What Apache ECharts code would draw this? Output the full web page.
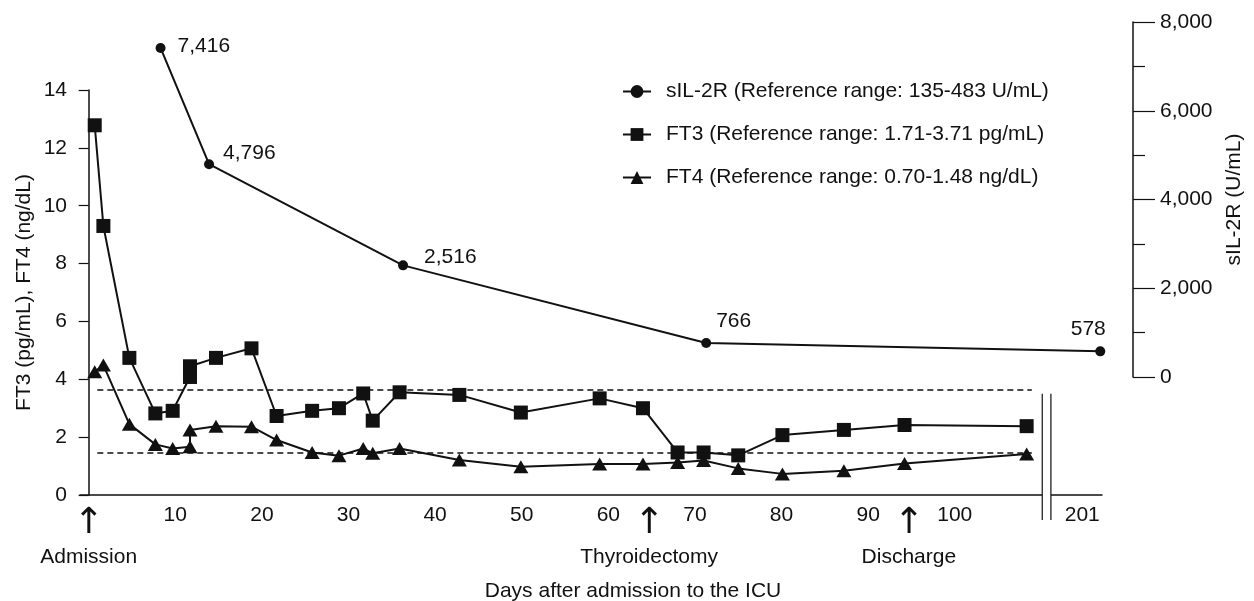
<!DOCTYPE html>
<html>
<head>
<meta charset="utf-8">
<script src="https://cdn.jsdelivr.net/npm/echarts@6/dist/echarts.min.js"></script>
<style>
  html, body { margin: 0; background: #fff; }
  #chart { width: 1254px; height: 601px; }
</style>
</head>
<body>
<div id="chart"></div>
<script>
// days after ICU admission for the thyroid tests
const thyroidDays = [0.7, 1.7, 4.7, 7.7, 9.7, 11.7, 11.7, 14.7, 18.8, 21.7, 25.8, 28.9, 31.7, 32.8, 35.9,
  42.8, 49.9, 59.0, 64.0, 68.0, 71.0, 75.0, 80.1, 87.2, 94.2, 108.3];
const ft3 = [12.78, 9.30, 4.74, 2.82, 2.91, 4.08, 4.45, 4.74, 5.07, 2.73, 2.91, 3.00, 3.51, 2.57, 3.55,
  3.46, 2.85, 3.34, 3.00, 1.47, 1.47, 1.37, 2.07, 2.25, 2.42, 2.38];
const ft4 = [4.26, 4.49, 2.45, 1.75, 1.61, 1.67, 2.25, 2.38, 2.36, 1.90, 1.47, 1.36, 1.61, 1.44, 1.61,
  1.21, 0.98, 1.07, 1.07, 1.12, 1.19, 0.92, 0.73, 0.84, 1.09, 1.42];

const sil2rDays = [8.3, 13.9, 36.3, 71.3, 201];
const sil2r = [7416, 4796, 2516, 766, 578];

// upper limits of the reference ranges (dashed lines)
const refLines = [3.65, 1.46];
const refFrom = 1, refTo = 108.9;

const xTicks = [10, 20, 30, 40, 50, 60, 70, 80, 90, 100];
const eventDays = [0, 64.7, 94.7];
const eventNames = ['Admission', 'Thyroidectomy', 'Discharge'];

const legendNames = [
  'sIL-2R (Reference range: 135-483 U/mL)',
  'FT3 (Reference range: 1.71-3.71 pg/mL)',
  'FT4 (Reference range: 0.70-1.48 ng/dL)'
];

// axis break: days past the break are drawn at the end of the axis
const X_MIN = -1, X_MAX = 117;
const BREAK_L = 110.1, BREAK_R = 111.1;
const LATE_POS = 116.8;
const toAxis = d => (d > BREAK_R ? LATE_POS : d);

const FONT = '"Liberation Sans", Arial, Helvetica, sans-serif';
const INK = '#111';
const FS = 21;

// where each sIL-2R value label sits
const sLabelPos = [
  { position: 'right', distance: 12, offset: [0, -2] },
  { position: 'right', distance: 9, offset: [0, -11] },
  { position: 'right', distance: 16, offset: [0, -8] },
  { position: 'right', distance: 5, offset: [0, -22] },
  { position: 'top', distance: 7, offset: [-12, 0] }
];

const chart = echarts.init(document.getElementById('chart'));

const option = {
  animation: false,
  textStyle: { fontFamily: FONT, color: INK },
  grid: [
    { left: 80, right: 152, top: 90, bottom: 106, outerBoundsMode: 'none' },
    { left: 80, right: 152, top: 22, bottom: 224, outerBoundsMode: 'none' }
  ],
  legend: {
    orient: 'vertical',
    left: 617,
    top: 76,
    itemWidth: 28,
    itemHeight: 16,
    itemGap: 22,
    data: legendNames,
    textStyle: { fontSize: FS, color: INK, padding: [0, 0, 0, 10] }
  },
  xAxis: [
    {
      gridIndex: 0, type: 'value', min: X_MIN, max: X_MAX,
      splitLine: { show: false },
      axisTick: { show: false },
      axisLine: { onZero: false, lineStyle: { color: INK, width: 1.5 } },
      axisLabel: {
        customValues: xTicks.concat([LATE_POS]),
        formatter: v => (v === LATE_POS ? '{late|201}' : String(v)),
        margin: 10, fontSize: FS, color: INK,
        rich: { late: { fontSize: FS, color: INK, padding: [0, 36, 0, 0] } }
      },
      name: 'Days after admission to the ICU',
      nameLocation: 'middle', nameGap: 86,
      nameTextStyle: { fontSize: FS, color: INK, padding: [0, 0, 0, 84] }
    },
    {
      // event markers under the axis
      gridIndex: 0, type: 'value', min: X_MIN, max: X_MAX, position: 'bottom',
      splitLine: { show: false }, axisTick: { show: false },
      axisLine: { show: false, onZero: false },
      axisLabel: {
        customValues: eventDays,
        formatter: v => '{arr|\u2191}\n{ev|' + eventNames[eventDays.indexOf(v)] + '}',
        margin: 11,
        rich: {
          arr: { fontSize: 36, lineHeight: 36, color: INK, fontFamily: 'DejaVu Sans' },
          ev: { fontSize: FS, lineHeight: 30, color: INK }
        }
      }
    },
    { gridIndex: 1, type: 'value', min: X_MIN, max: X_MAX, show: false }
  ],
  yAxis: [
    {
      gridIndex: 0, type: 'value', min: 0, max: 14, interval: 2,
      splitLine: { show: false },
      axisLine: { show: true, onZero: true, lineStyle: { color: INK, width: 1.5 } },
      axisTick: { show: true, length: 10, lineStyle: { color: INK, width: 1.2 } },
      axisLabel: { fontSize: FS, color: INK, margin: 13 },
      name: 'FT3 (pg/mL), FT4 (ng/dL)',
      nameLocation: 'middle', nameGap: 45, nameMoveOverlap: false,
      nameTextStyle: { fontSize: FS, color: INK }
    },
    {
      gridIndex: 1, type: 'value', min: 0, max: 8000, interval: 2000,
      position: 'right', offset: 31,
      splitLine: { show: false },
      axisLine: { show: true, onZero: false, lineStyle: { color: INK, width: 1.5 } },
      axisTick: { show: true, length: 22, lineStyle: { color: INK, width: 1.2 } },
      minorTick: { show: true, splitNumber: 2, length: 12, lineStyle: { color: INK, width: 1.2 } },
      axisLabel: {
        fontSize: FS, color: INK, margin: 27,
        formatter: v => v.toLocaleString('en-US')
      },
      name: 'sIL-2R (U/mL)',
      nameLocation: 'middle', nameGap: 91,
      nameTextStyle: { fontSize: FS, color: INK }
    }
  ],
  series: [
    {
      name: legendNames[0], type: 'line', xAxisIndex: 2, yAxisIndex: 1,
      symbol: 'circle', symbolSize: 10,
      lineStyle: { color: INK, width: 2 },
      itemStyle: { color: INK },
      label: {
        show: true, fontSize: FS, color: INK,
        formatter: p => p.value[1].toLocaleString('en-US')
      },
      data: sil2rDays.map((d, i) => ({ value: [toAxis(d), sil2r[i]], label: sLabelPos[i] }))
    },
    {
      name: legendNames[1], type: 'line', xAxisIndex: 0, yAxisIndex: 0,
      symbol: 'rect', symbolSize: 14,
      lineStyle: { color: INK, width: 2 },
      itemStyle: { color: INK },
      data: thyroidDays.map((d, i) => [d, ft3[i]]),
      markLine: {
        silent: true, symbol: 'none',
        label: { show: false },
        lineStyle: { color: INK, type: [6, 4], width: 1.5 },
        data: refLines.map(v => [{ coord: [refFrom, v] }, { coord: [refTo, v] }])
      }
    },
    {
      name: legendNames[2], type: 'line', xAxisIndex: 0, yAxisIndex: 0,
      symbol: 'triangle', symbolSize: [15, 13],
      lineStyle: { color: INK, width: 2 },
      itemStyle: { color: INK },
      data: thyroidDays.map((d, i) => [d, ft4[i]])
    }
  ]
};

chart.setOption(option);

// axis-break marks: two short verticals across the x axis, with a gap in the axis line
const finder = { xAxisIndex: 0, yAxisIndex: 0 };
const pL = chart.convertToPixel(finder, [BREAK_L, 3.5]);
const pR = chart.convertToPixel(finder, [BREAK_R, 3.5]);
const base = chart.convertToPixel(finder, [BREAK_L, 0]);
const yTop = pL[1], yBot = base[1] + 25;
chart.setOption({
  graphic: [
    { type: 'rect', z: 50, shape: { x: pL[0], y: base[1] - 2, width: pR[0] - pL[0], height: 4 }, style: { fill: '#fff' } },
    { type: 'line', z: 51, shape: { x1: pL[0], y1: yTop, x2: pL[0], y2: yBot }, style: { stroke: INK, lineWidth: 1.2 } },
    { type: 'line', z: 51, shape: { x1: pR[0], y1: yTop, x2: pR[0], y2: yBot }, style: { stroke: INK, lineWidth: 1.2 } }
  ]
});
</script>
</body>
</html>
